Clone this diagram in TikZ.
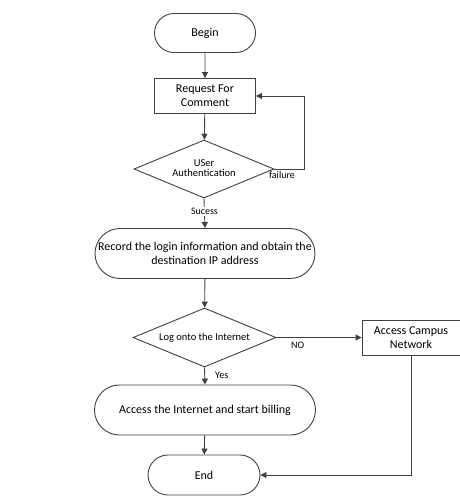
\documentclass[tikz,border=0pt]{standalone}
\usepackage{fontspec}
\setmainfont{Carlito}
\usetikzlibrary{shapes.geometric,shapes.misc,arrows.meta}
\definecolor{ln}{HTML}{404040}
\tikzset{
  x=1pt,y=-1pt,
  base/.style={draw=ln,line width=0.9pt,fill=white,inner sep=0pt,align=center,font=\fontsize{12}{14}\selectfont},
  term/.style={base,rounded rectangle},
  proc/.style={base,rectangle},
  dec/.style={base,diamond,font=\fontsize{10.5}{12}\selectfont},
  lab/.style={font=\fontsize{10}{11}\selectfont,inner sep=1pt},
  conn/.style={draw=ln,line width=0.9pt,-{Triangle[length=6pt,width=6pt]}}
}
\begin{document}
\begin{tikzpicture}
\useasboundingbox (0,0) rectangle (460,496);
\node[term,minimum width=101pt,minimum height=39pt] (begin) at (205,33) {Begin};
\node[proc,minimum width=101pt,minimum height=35pt] (req) at (205,96) {Request For\\Comment};
\node[dec,minimum width=140pt,minimum height=58pt] (auth) at (204,169) {\makebox[0pt]{\begin{tabular}{@{}c@{}}USer\\[-2pt]Authentication\end{tabular}}};
\node[term,minimum width=220pt,minimum height=50pt] (rec) at (205,253.5) {Record the login information and obtain the\\destination IP address};
\node[dec,minimum width=143pt,minimum height=59pt] (log) at (204.5,337.5) {\makebox[0pt]{Log onto the Internet}};
\node[proc,minimum width=98pt,minimum height=35pt] (campus) at (411,337.5) {Access Campus\\Network};
\node[term,minimum width=221pt,minimum height=50pt] (acc) at (205,410) {Access the Internet and start billing};
\node[term,minimum width=112pt,minimum height=40pt] (end) at (204,475) {End};
\coordinate (f1) at (304,169);
\coordinate (f2) at (304,96);
\coordinate (c1) at (411,475);

\draw[conn] (begin) -- (req);
\draw[conn] (req) -- (auth);
\draw[conn] (auth.east) -- (f1) -- (f2) -- (req.east);
\node[lab,anchor=north] (fail) at (282,170) {failure};
\draw[conn] (auth.south) -- (rec.north) node[lab,pos=0.45,fill=white] (suc) {Sucess};
\draw[conn] (rec) -- (log);
\draw[conn] (log.east) -- (campus.west) node[lab,pos=0.25,anchor=north,yshift=-3pt] (no) {NO};
\draw[conn] (log.south) -- (acc.north) node[lab,pos=0.45,anchor=west,xshift=9pt] (yes) {Yes};
\draw[conn] (acc) -- (end);
\draw[conn] (campus.south) -- (c1) -- (end.east);
\end{tikzpicture}
\end{document}
